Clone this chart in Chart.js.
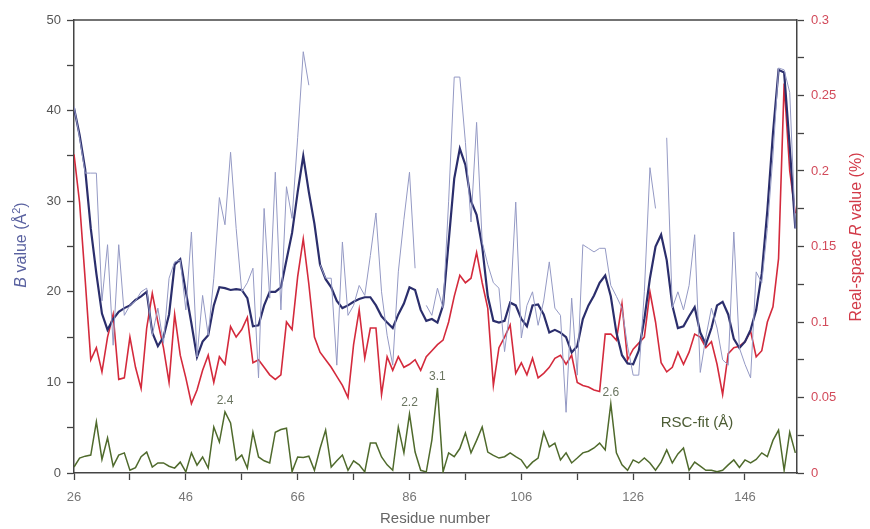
<!DOCTYPE html>
<html>
<head>
<meta charset="utf-8">
<script src="https://cdn.jsdelivr.net/npm/chart.js@4.4.0/dist/chart.umd.min.js"></script>
<style>
  body { margin: 0; background: #fff; }
  #wrap { width: 870px; height: 529px; }
</style>
</head>
<body>
<div id="wrap"><canvas id="myChart" width="870" height="529"></canvas></div>
<script>
// residue numbers 26..155
let residues = [26,27,28,29,30,31,32,33,34,35,36,37,38,39,40,41,42,43,44,45,
  46,47,48,49,50,51,52,53,54,55,56,57,58,59,60,61,62,63,64,65,
  66,67,68,69,70,71,72,73,74,75,76,77,78,79,80,81,82,83,84,85,
  86,87,88,89,90,91,92,93,94,95,96,97,98,99,100,101,102,103,104,105,
  106,107,108,109,110,111,112,113,114,115,116,117,118,119,120,121,122,123,124,125,
  126,127,128,129,130,131,132,133,134,135,136,137,138,139,140,141,142,143,144,145,
  146,147,148,149,150,151,152,153,154,155];

// per-residue B value (thin line), null = gap
let bResidue = [40.5,37,33.1,33.1,33.1,19,25.2,14.1,25.2,17.4,18.5,19,20,20.4,15.2,18.2,14.3,21.5,23.3,23.5,
  18,26.6,12.8,19.6,15.2,21.5,30.4,27.4,35.4,27,20,21,22.6,10.5,29.2,19.3,33.2,18,31.6,28.1,
  37,46.5,42.8,null,23,21.5,21.5,11.9,25.5,17.4,18.5,20.7,19.6,24,28.7,20,15.2,11.9,22.2,28,
  33.2,22.6,null,18.5,17.4,20.4,18.2,30,43.7,43.7,36.5,27.7,38.7,25.5,23,21,20.4,13.4,18.2,29.9,
  14.9,18.5,20,16.3,19,23.3,18.2,17.4,6.7,19.3,10.8,25.2,24.8,24.4,24.8,24.8,20.7,19.5,18.2,14,
  10.8,10.8,20,33.7,29.2,null,37,18.2,20,18,20.7,26.3,11.1,15,18.2,16,12.5,11.9,26.6,13.8,
  12,10.5,22.2,21,27,35,44.7,44.5,42,27];

// averaged B value (thick line)
let bAverage = [40.3,37.3,33.5,27,22,17.6,15.8,17,17.8,18.2,18.5,19.1,19.5,20,15.5,14,15,17.5,23,23.6,
  20,16.5,12.8,14.5,15.2,18.5,20.5,20.4,20.2,20.3,20.2,19.3,16.2,16.3,18.5,20,20,20.5,23.5,26.5,
  31,35,31,27.5,23,21.4,20.5,19,18.2,18.5,18.9,19.2,19.4,19.4,18.5,17.3,16.6,16,17.5,18.7,
  20.5,20.2,18,16.8,17,16.6,18.5,25.5,32.5,35.8,34,30,28.5,25,19.5,16.8,16.6,16.8,18.8,18.5,
  17,16.2,18.5,18.6,17.5,15.5,15.8,15.5,15,13.3,14,17,18.5,19.6,21,21.8,19.5,15.5,13,12.1,
  12,13.5,17,21.5,25,26.3,23.5,18.5,16,16.2,17.3,18.3,15.5,14.2,16,18.5,18.9,17.5,14.8,13.8,
  14.5,15.8,18,22,29,37.5,44.5,44.2,36,27];

// real-space R value
let rValue = [0.211,0.179,0.128,0.075,0.083,0.067,0.09,0.105,0.062,0.063,0.09,0.07,0.056,0.096,0.119,0.1,0.083,0.06,0.105,0.078,
  0.063,0.046,0.055,0.068,0.078,0.06,0.077,0.072,0.097,0.09,0.095,0.103,0.073,0.075,0.07,0.065,0.062,0.065,0.1,0.095,
  0.13,0.155,0.125,0.09,0.08,0.075,0.07,0.064,0.058,0.05,0.085,0.108,0.076,0.096,0.096,0.052,0.077,0.068,0.077,0.07,
  0.072,0.075,0.068,0.077,0.081,0.085,0.088,0.1,0.117,0.131,0.126,0.129,0.146,0.126,0.109,0.058,0.083,0.09,0.098,0.066,
  0.073,0.065,0.076,0.063,0.066,0.07,0.076,0.078,0.072,0.078,0.06,0.058,0.057,0.055,0.054,0.092,0.092,0.088,0.112,0.075,
  0.082,0.086,0.09,0.12,0.1,0.073,0.067,0.07,0.08,0.072,0.08,0.092,0.09,0.083,0.087,0.072,0.052,0.079,0.083,0.084,
  0.087,0.094,0.077,0.081,0.1,0.11,0.142,0.258,0.2,0.172];

// RSC-fit (Å)
let rscFit = [0.22,0.55,0.62,0.66,1.88,0.5,1.29,0.25,0.66,0.74,0.1,0.2,0.6,0.77,0.22,0.37,0.37,0.25,0.18,0.4,
  0.04,0.74,0.29,0.59,0.18,1.69,1.14,2.25,1.84,0.48,0.66,0.18,1.5,0.59,0.45,0.37,1.5,1.6,1.65,0.05,
  0.59,0.57,0.62,0.1,0.9,1.58,0.22,0.45,0.66,0.1,0.45,0.3,0.04,1.1,1.1,0.59,0.3,0.1,1.69,0.74,
  2.17,0.77,0.1,0.04,1.21,3.13,0.04,0.74,0.6,0.9,1.47,0.74,1.2,1.69,0.77,0.65,0.55,0.6,0.74,0.6,
  0.48,0.18,0.4,0.55,1.5,0.96,1.1,0.48,0.74,0.37,0.55,0.74,0.8,0.92,1.1,0.85,2.55,0.74,0.3,0.1,
  0.48,0.37,0.55,0.37,0.1,0.4,0.85,0.37,0.7,0.92,0.1,0.4,0.25,0.1,0.1,0.05,0.1,0.3,0.48,0.2,
  0.48,0.37,0.5,0.74,0.6,1.2,1.58,0.1,1.5,0.74];

// labelled RSC-fit peaks
let peakResidues = [53, 86, 91, 122];
let peakLabels = ["2.4", "2.2", "3.1", "2.6"];

let xTicks = [26,36,46,56,66,76,86,96,106,116,126,136,146];
let bTicks = [0,5,10,15,20,25,30,35,40,45,50];
let rTicks = [0,0.025,0.05,0.075,0.1,0.125,0.15,0.175,0.2,0.225,0.25,0.275,0.3];

function pts(vals) {
  return residues.map((r, i) => ({x: r, y: vals[i]}));
}

const FONT = "'Liberation Sans', Arial, sans-serif";

const extras = {
  id: "extras",
  afterDraw(chart) {
    const ctx = chart.ctx;
    const a = chart.chartArea;
    const xs = chart.scales.x, ys = chart.scales.yRsc;
    ctx.save();
    // top frame line
    ctx.strokeStyle = "#444";
    ctx.lineWidth = 1.5;
    ctx.beginPath();
    ctx.moveTo(a.left, a.top);
    ctx.lineTo(a.right, a.top);
    ctx.stroke();

    // peak labels
    ctx.font = "12px " + FONT;
    ctx.fillStyle = "#6a7560";
    ctx.textAlign = "center";
    ctx.textBaseline = "middle";
    peakResidues.forEach((r, i) => {
      const v = rscFit[residues.indexOf(r)];
      ctx.fillText(peakLabels[i], xs.getPixelForValue(r), ys.getPixelForValue(v) - 11);
    });
    ctx.font = "15px " + FONT;
    ctx.fillStyle = "#4c5c34";
    ctx.fillText("RSC-fit (Å)", 697, 423);

    // x title
    ctx.font = "15px " + FONT;
    ctx.fillStyle = "#666";
    ctx.fillText("Residue number", 435, 519);

    // rotated titles made of pieces (italic letters, superscript)
    function vTitle(cx, cy, parts, color) {
      ctx.save();
      ctx.translate(cx, cy);
      ctx.rotate(-Math.PI / 2);
      ctx.fillStyle = color;
      ctx.textAlign = "left";
      ctx.textBaseline = "middle";
      let total = 0;
      parts.forEach(p => { ctx.font = p.font; total += ctx.measureText(p.t).width; });
      let x = -total / 2;
      parts.forEach(p => {
        ctx.font = p.font;
        ctx.fillText(p.t, x, p.dy || 0);
        x += ctx.measureText(p.t).width;
      });
      ctx.restore();
    }
    vTitle(22, 245, [
      {t: "B", font: "italic 16px " + FONT},
      {t: " value (Å", font: "16px " + FONT},
      {t: "2", font: "11px " + FONT, dy: -5},
      {t: ")", font: "16px " + FONT}
    ], "#5a62a0");
    vTitle(857, 237, [
      {t: "Real-space ", font: "16px " + FONT},
      {t: "R", font: "italic 16px " + FONT},
      {t: " value (%)", font: "16px " + FONT}
    ], "#d23a48");
    ctx.restore();
  }
};

new Chart("myChart", {
  type: "line",
  data: {
    datasets: [
      {data: pts(bResidue), yAxisID: "y", borderColor: "#9499c4", borderWidth: 1, spanGaps: false},
      {data: pts(bAverage), yAxisID: "y", borderColor: "#2b2e6c", borderWidth: 2.2},
      {data: pts(rValue), yAxisID: "yR", borderColor: "#d42a3c", borderWidth: 1.6},
      {data: pts(rscFit), yAxisID: "yRsc", borderColor: "#4f6a2c", borderWidth: 1.5}
    ]
  },
  options: {
    responsive: false,
    animation: false,
    devicePixelRatio: 1,
    layout: {padding: {top: 20, left: 0, right: 0, bottom: 0}},
    elements: {point: {radius: 0}, line: {tension: 0}},
    plugins: {legend: {display: false}, tooltip: {enabled: false}},
    scales: {
      x: {
        type: "linear", position: "bottom", min: 26, max: 155.3,
        afterBuildTicks: s => { s.ticks = xTicks.map(v => ({value: v})); },
        afterFit: s => { s.height = 56; },
        ticks: {
          autoSkip: false, maxRotation: 0, padding: 10, color: "#777",
          font: {family: FONT, size: 13},
          callback: v => ((v - 26) % 20 === 0 ? v : "")
        },
        grid: {drawOnChartArea: false, tickLength: 7, tickColor: "#444", tickWidth: 1.3},
        border: {color: "#444", width: 1.5}
      },
      y: {
        position: "left", min: 0, max: 50,
        afterBuildTicks: s => { s.ticks = bTicks.map(v => ({value: v})); },
        afterFit: s => { s.width = 74; },
        ticks: {
          autoSkip: false, padding: 6, color: "#555",
          font: {family: FONT, size: 13},
          callback: v => (v % 10 === 0 ? v : "")
        },
        grid: {drawOnChartArea: false, tickLength: 7, tickColor: "#444", tickWidth: 1.3},
        border: {color: "#444", width: 1.5}
      },
      yR: {
        position: "right", min: 0, max: 0.3,
        afterBuildTicks: s => { s.ticks = rTicks.map(v => ({value: v})); },
        afterFit: s => { s.width = 73; },
        ticks: {
          autoSkip: false, padding: 7, color: "#d24a5a",
          font: {family: FONT, size: 13},
          callback: v => {
            const k = Math.round(v * 1000);
            return k % 50 === 0 ? String(k / 1000) : "";
          }
        },
        grid: {drawOnChartArea: false, tickLength: 7, tickColor: "#444", tickWidth: 1.3},
        border: {color: "#444", width: 1.5}
      },
      yRsc: {display: false, min: 0, max: 50 / 3}
    }
  },
  plugins: [extras]
});
</script>
</body>
</html>
